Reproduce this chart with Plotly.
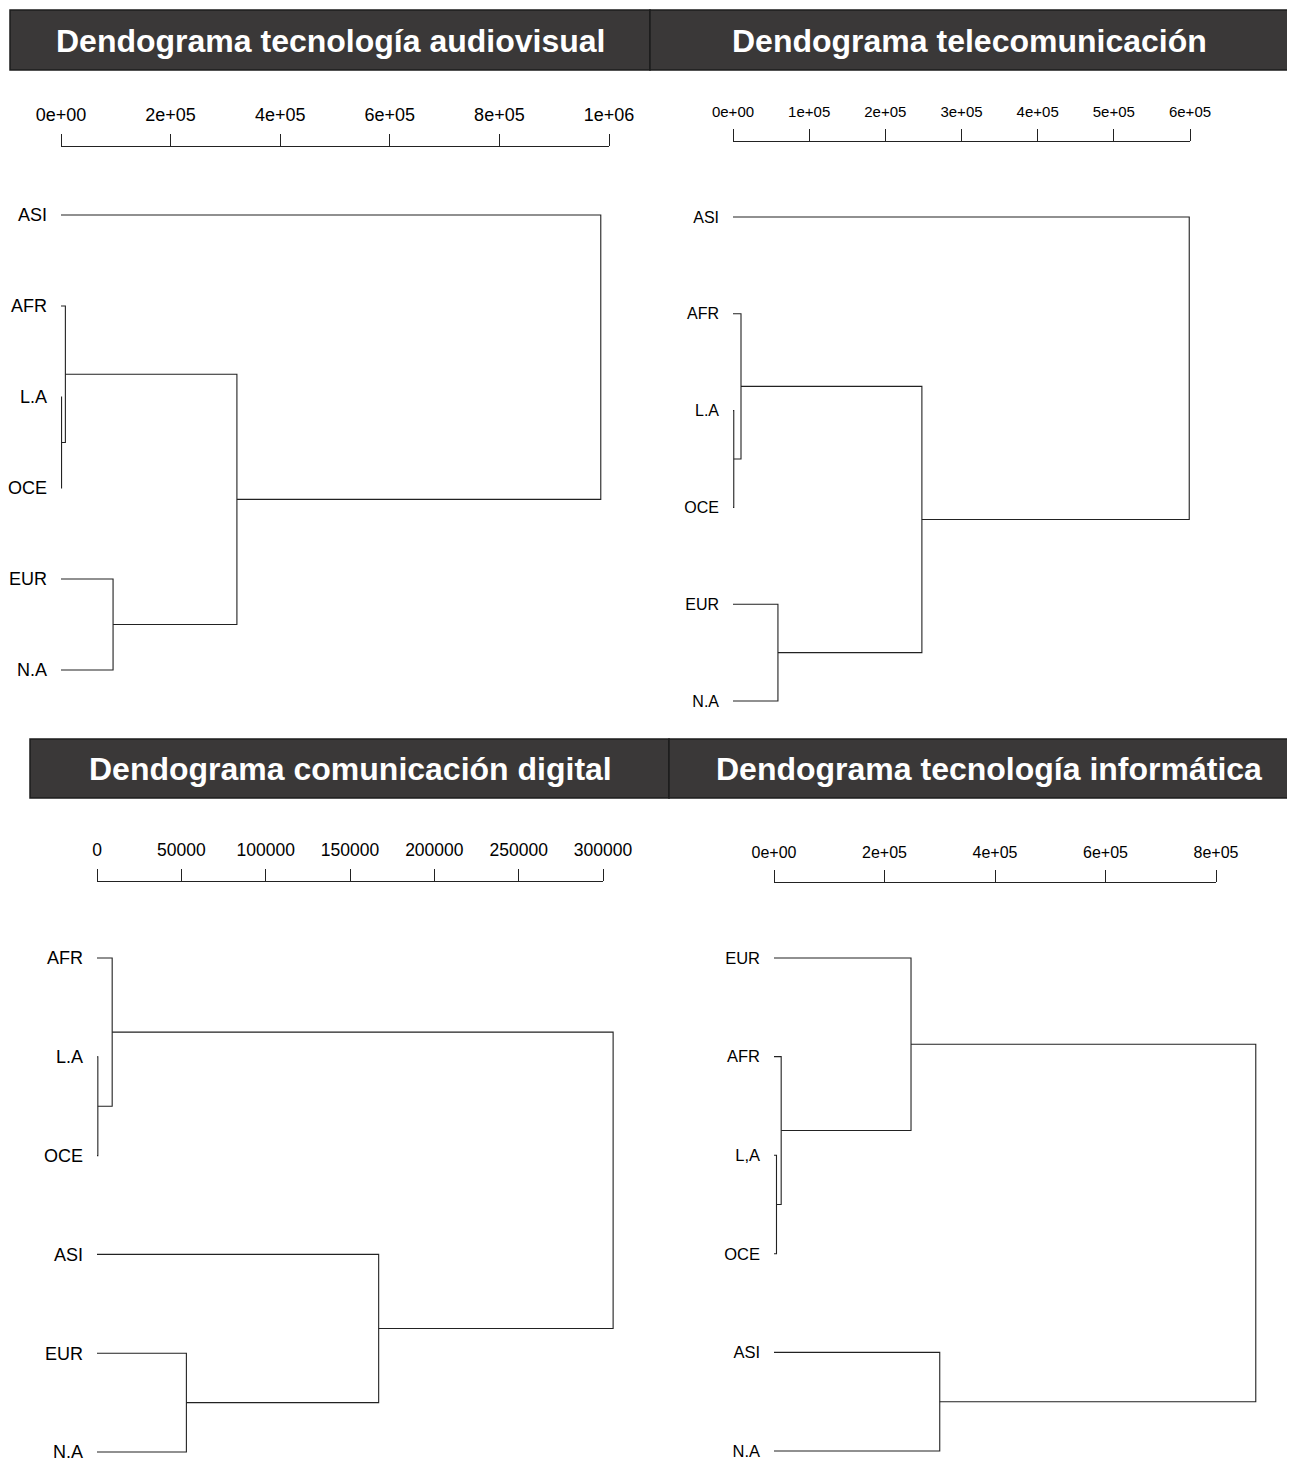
import plotly.graph_objects as go

# page body has an 8px margin: compensate so the picture lands at the reference pixels
OX, OY = 8, 8
W, H = 1295 - OX, 1461 - OY

# ---------------- data ----------------
titles = ["Dendograma tecnología audiovisual", "Dendograma telecomunicación",
          "Dendograma comunicación digital", "Dendograma tecnología informática"]

# leaf labels in display order (top to bottom)
labels_av = ["ASI", "AFR", "L.A", "OCE", "EUR", "N.A"]
labels_tel = ["ASI", "AFR", "L.A", "OCE", "EUR", "N.A"]
labels_dig = ["AFR", "L.A", "OCE", "ASI", "EUR", "N.A"]
labels_inf = ["EUR", "AFR", "L,A", "OCE", "ASI", "N.A"]

# merges (R style: negative = leaf index 1-based in display order, positive = earlier merge)
merge_av = [[-3, -4], [-2, 1], [-5, -6], [2, 3], [-1, 4]]
heights_av = [1000, 8000, 95000, 321000, 985000]

merge_tel = [[-3, -4], [-2, 1], [-5, -6], [2, 3], [-1, 4]]
heights_tel = [1000, 10500, 59000, 248000, 599000]

merge_dig = [[-2, -3], [-1, 1], [-5, -6], [-4, 3], [2, 4]]
heights_dig = [500, 9000, 53000, 167000, 306000]

merge_inf = [[-3, -4], [-2, 1], [-1, 2], [-5, -6], [3, 4]]
heights_inf = [4500, 13000, 248000, 300000, 872000]

# axis ticks
ticks_av = [0, 200000, 400000, 600000, 800000, 1000000]
ticktext_av = ["0e+00", "2e+05", "4e+05", "6e+05", "8e+05", "1e+06"]
ticks_tel = [0, 100000, 200000, 300000, 400000, 500000, 600000]
ticktext_tel = ["0e+00", "1e+05", "2e+05", "3e+05", "4e+05", "5e+05", "6e+05"]
ticks_dig = [0, 50000, 100000, 150000, 200000, 250000, 300000]
ticktext_dig = ["0", "50000", "100000", "150000", "200000", "250000", "300000"]
ticks_inf = [0, 200000, 400000, 600000, 800000]
ticktext_inf = ["0e+00", "2e+05", "4e+05", "6e+05", "8e+05"]

# ---------------- layout config (reference pixels) ----------------
panels = [
    dict(title=titles[0], labels=labels_av, merge=merge_av, heights=heights_av,
         tv=ticks_av, tt=ticktext_av, px0=61, px_last=609, y0=215, y5=670,
         axis_y=147, right=645, bar=(10, 10, 650, 70), tcx=331, tcy=41,
         tfs=18, lfs=18),
    dict(title=titles[1], labels=labels_tel, merge=merge_tel, heights=heights_tel,
         tv=ticks_tel, tt=ticktext_tel, px0=733, px_last=1190, y0=217, y5=701,
         axis_y=142, right=1285, bar=(650, 10, 1289, 70), tcx=969, tcy=41,
         tfs=15, lfs=16),
    dict(title=titles[2], labels=labels_dig, merge=merge_dig, heights=heights_dig,
         tv=ticks_dig, tt=ticktext_dig, px0=97, px_last=603, y0=958, y5=1452,
         axis_y=882, right=662, bar=(30, 739, 669, 798), tcx=350, tcy=769,
         tfs=17.5, lfs=18),
    dict(title=titles[3], labels=labels_inf, merge=merge_inf, heights=heights_inf,
         tv=ticks_inf, tt=ticktext_inf, px0=774, px_last=1216, y0=958, y5=1451,
         axis_y=883, right=1290, bar=(669, 739, 1300, 798), tcx=989, tcy=769,
         tfs=16, lfs=16.5),
]


def fx(px):
    return (px - OX) / W


def fy(py):
    return 1 - (py - OY) / H


def dendro_segments(merge, heights):
    xs, ys, nodes = [], [], []

    def node(ref):
        if ref < 0:
            return 0.0, float(-ref - 1)
        return nodes[ref - 1]

    for (a, b), h in zip(merge, heights):
        xa, ya = node(a)
        xb, yb = node(b)
        xs += [xa, h, h, xb, None]
        ys += [ya, ya, yb, yb, None]
        nodes.append((h, (ya + yb) / 2))
    return xs, ys


fig = go.Figure()
layout = dict(width=W, height=H, autosize=False,
              margin=dict(l=0, r=0, t=0, b=0, pad=0, autoexpand=False),
              paper_bgcolor="white", plot_bgcolor="white", showlegend=False,
              template="none",
              font=dict(family="Liberation Sans, Arial, sans-serif", color="black"))
shapes, annotations = [], []

for i, p in enumerate(panels):
    k = i + 1
    dk = 2 * k - 1   # data axes index
    ak = 2 * k       # tick axes index
    ppu = (p["px_last"] - p["px0"]) / p["tv"][-1]
    dy = (p["y5"] - p["y0"]) / 5.0

    # data axes
    L = p["px0"] - 8
    R = p["right"]
    T = p["y0"] - 30
    B = min(p["y5"] + 6, OY + H - 1)
    xs, ys = dendro_segments(p["merge"], p["heights"])
    fig.add_trace(go.Scatter(x=xs, y=ys, mode="lines",
                             line=dict(color="#222222", width=1.1),
                             xaxis=f"x{dk}", yaxis=f"y{dk}", hoverinfo="skip"))
    layout[f"xaxis{dk}"] = dict(domain=[fx(L), fx(R)],
                                range=[(L - p["px0"]) / ppu, (R - p["px0"]) / ppu],
                                visible=False, anchor=f"y{dk}", fixedrange=True,
                                automargin=False)
    layout[f"yaxis{dk}"] = dict(domain=[fy(B), fy(T)],
                                range=[(B - p["y0"]) / dy, (T - p["y0"]) / dy],
                                anchor=f"x{dk}", tickmode="array",
                                tickvals=list(range(6)), ticktext=p["labels"],
                                ticks="", showline=False, showgrid=False,
                                zeroline=False, ticklabelstandoff=5,
                                ticklabeloverflow="allow",
                                tickfont=dict(size=p["lfs"], color="black"),
                                fixedrange=True, automargin=False)

    # tick axis (top scale)
    ay = p["axis_y"]
    fig.add_trace(go.Scatter(x=[p["tv"][0]], y=[0], mode="markers",
                             marker=dict(opacity=0), xaxis=f"x{ak}", yaxis=f"y{ak}",
                             hoverinfo="skip"))
    layout[f"xaxis{ak}"] = dict(domain=[fx(p["px0"]), fx(p["px_last"])],
                                range=[p["tv"][0], p["tv"][-1]], side="top",
                                anchor=f"y{ak}", tickmode="array", tickvals=p["tv"],
                                ticktext=p["tt"], ticks="outside", ticklen=12,
                                tickwidth=1, tickcolor="#222222", showline=True,
                                linecolor="#222222", linewidth=1, showgrid=False,
                                zeroline=False, ticklabelstandoff=6,
                                ticklabeloverflow="allow",
                                tickfont=dict(size=p["tfs"], color="black"),
                                fixedrange=True, automargin=False)
    layout[f"yaxis{ak}"] = dict(domain=[fy(ay + 2), fy(ay)], range=[-1, 1],
                                visible=False, anchor=f"x{ak}", fixedrange=True,
                                automargin=False)

    # title bar
    x0, y0b, x1, y1b = p["bar"]
    shapes.append(dict(type="rect", xref="paper", yref="paper",
                       x0=fx(x0), x1=fx(x1), y0=fy(y1b), y1=fy(y0b),
                       fillcolor="#3a3838", line=dict(color="#1c1c1c", width=1.5),
                       layer="above"))
    annotations.append(dict(text=p["title"], xref="paper", yref="paper",
                            x=fx(p["tcx"]), y=fy(p["tcy"]), xanchor="center",
                            yanchor="middle", showarrow=False,
                            font=dict(family="Liberation Sans, Arial, sans-serif",
                                      size=32, color="white", weight="bold")))

layout["shapes"] = shapes
layout["annotations"] = annotations
fig.update_layout(**layout)
fig.write_html("out.html")
